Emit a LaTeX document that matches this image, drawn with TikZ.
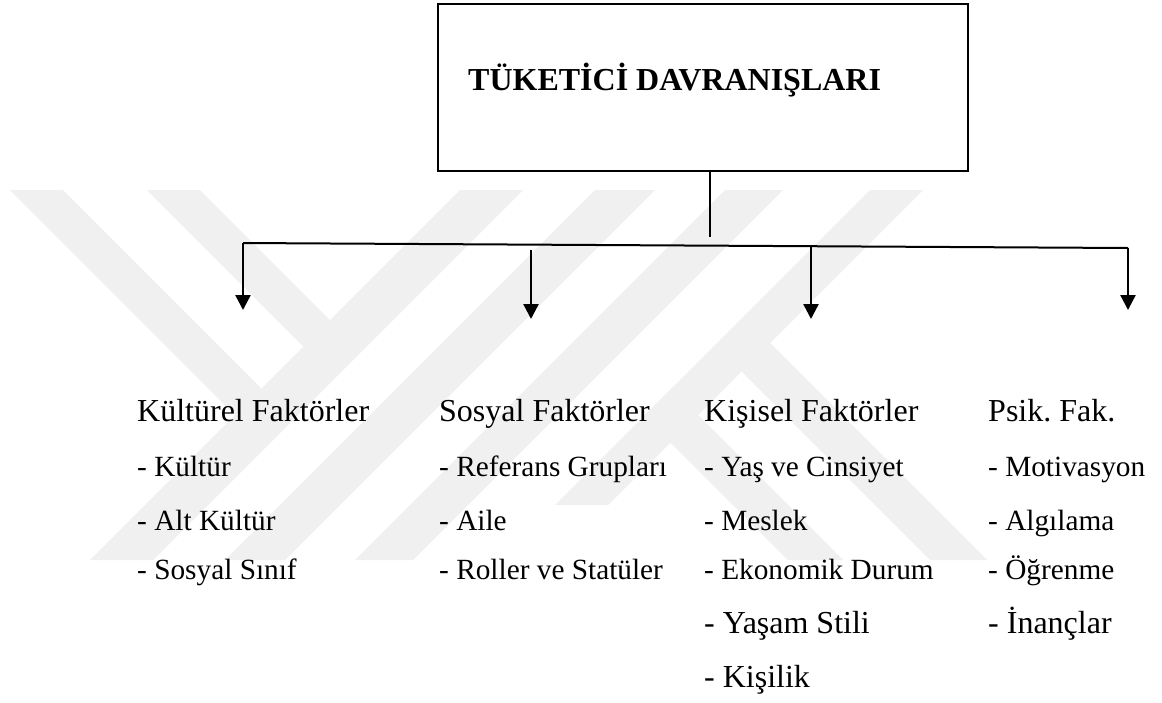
\documentclass[tikz,border=0pt]{standalone}
\usepackage{fontspec}
\setmainfont{Liberation Serif}
\frenchspacing
\usetikzlibrary{arrows.meta}
\begin{document}
\begin{tikzpicture}[x=1pt,y=-1pt,
  wm/.style={fill=black!6,draw=none},
  head/.style={anchor=base west,inner sep=0pt,font=\fontsize{32}{32}\selectfont},
  item/.style={anchor=base west,inner sep=0pt,font=\fontsize{29.3}{29.3}\selectfont},
  itembig/.style={anchor=base west,inner sep=0pt,font=\fontsize{32}{32}\selectfont},
  bus/.style={line width=2pt},
  stem/.style={line width=1.3pt},
  down/.style={line width=2.4pt,-{Triangle[length=15pt,width=15pt]}},
]
\useasboundingbox (0,0) rectangle (1162,702);
\fill[white] (0,0) rectangle (1162,702);

% faint logo in the background
\fill[wm] (90,560) -- (153,560) -- (523,190) -- (460,190) -- cycle;
\fill[wm] (225,560) -- (285,560) -- (655,190) -- (595,190) -- cycle;
\fill[wm] (355,560) -- (413,560) -- (783,190) -- (725,190) -- cycle;
\fill[wm] (10,190) -- (63,190) -- (261.5,388.5) -- (235,415) -- cycle;
\fill[wm] (147,190) -- (200,190) -- (330,320) -- (303.5,346.5) -- cycle;
\fill[wm] (870,190) -- (923,190) -- (608,505) -- (555,505) -- cycle;
\fill[wm] (715,345) -- (770,343) -- (987,560) -- (930,560) -- cycle;
\fill[wm] (644,416) -- (671.5,388.5) -- (843,560) -- (788,560) -- cycle;

% top box
\node[draw,line width=2.5pt,minimum width=530pt,minimum height=167pt,inner sep=0pt] (top) at (703,87.5) {};
\node[anchor=base west,inner sep=0pt,font=\bfseries\fontsize{32}{32}\selectfont] (title) at (468,90) {TÜKETİCİ DAVRANIŞLARI};

% connector points
\coordinate (stemend) at (710,237);
\coordinate (busL) at (243,243);
\coordinate (busR) at (1128,248);
\coordinate (s2) at (531,250);
\coordinate (s3) at (811,247);
\coordinate (t1) at (243,310);
\coordinate (t2) at (531,319);
\coordinate (t3) at (811,319);
\coordinate (t4) at (1128,310);

\draw[stem] (top.south -| stemend) -- (stemend);
\draw[bus] (busL) -- (busR);
\draw[down] (busL) -- (t1);
\draw[down] (s2) -- (t2);
\draw[down] (s3) -- (t3);
\draw[down] (busR) -- (t4);

% column 1
\node[head] (k0) at (137,421) {Kültürel Faktörler};
\node[item] (k1) at (137,476) {- Kültür};
\node[item] (k2) at (137,530) {- Alt Kültür};
\node[item] (k3) at (137,579) {- Sosyal Sınıf};

% column 2
\node[head] (s0) at (439,421) {Sosyal Faktörler};
\node[item] (so1) at (439,476) {- Referans Grupları};
\node[item] (so2) at (439,530) {- Aile};
\node[item] (so3) at (439,579) {- Roller ve Statüler};

% column 3
\node[head] (p0) at (704,421) {Kişisel Faktörler};
\node[item] (p1) at (704,476) {- Yaş ve Cinsiyet};
\node[item] (p2) at (704,530) {- Meslek};
\node[item] (p3) at (704,579) {- Ekonomik Durum};
\node[itembig] (p4) at (704,633) {- Yaşam Stili};
\node[itembig] (p5) at (704,687) {- Kişilik};

% column 4
\node[head] (q0) at (988,421) {Psik. Fak.};
\node[item] (q1) at (988,476) {- Motivasyon};
\node[item] (q2) at (988,530) {- Algılama};
\node[item] (q3) at (988,579) {- Öğrenme};
\node[itembig] (q4) at (988,633) {- İnançlar};
\end{tikzpicture}
\end{document}
